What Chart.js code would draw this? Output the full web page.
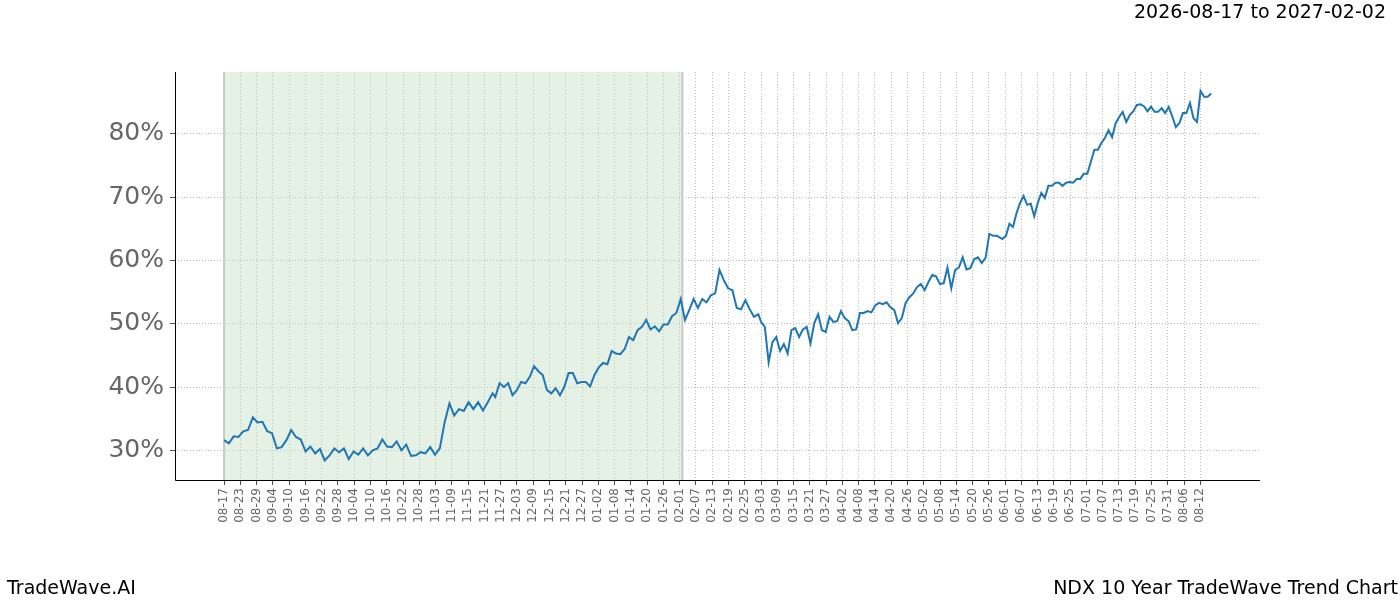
<!DOCTYPE html>
<html>
<head>
<meta charset="utf-8">
<script src="https://cdn.jsdelivr.net/npm/chart.js@4.4.0/dist/chart.umd.min.js"></script>
<style>
  body { margin: 0; background: #fff; font-family: "DejaVu Sans", sans-serif; }
  #wrap { position: relative; width: 1400px; height: 600px; }
  .txt { position: absolute; font-size: 19px; color: #000; white-space: nowrap; }
</style>
</head>
<body>
<div id="wrap">
  <canvas id="chart" width="1400" height="600"></canvas>
  <div class="txt" style="right:14px; top:0px;">2026-08-17 to 2027-02-02</div>
  <div class="txt" style="left:7px; top:576px;">TradeWave.AI</div>
  <div class="txt" style="right:2px; top:576px;">NDX 10 Year TradeWave Trend Chart</div>
</div>
<script>
const tickLabels = ['08-17','08-23','08-29','09-04','09-10','09-16','09-22','09-28','10-04','10-10','10-16','10-22','10-28','11-03','11-09','11-15','11-21','11-27','12-03','12-09','12-15','12-21','12-27','01-02','01-08','01-14','01-20','01-26','02-01','02-07','02-13','02-19','02-25','03-03','03-09','03-15','03-21','03-27','04-02','04-08','04-14','04-20','04-26','05-02','05-08','05-14','05-20','05-26','06-01','06-07','06-13','06-19','06-25','07-01','07-07','07-13','07-19','07-25','07-31','08-06','08-12'];
const tickStepDays = 6;

// series read in four stretches, each spread evenly between its first and last day
const segStartDay = [0, 100, 198, 287];
const segEndDay = [99, 197, 285, 364];
const seg1 = [31.6,31.1,32.2,32.1,33.0,33.2,35.2,34.4,34.5,33.0,32.7,30.3,30.5,31.6,33.2,32.1,31.7,29.8,30.6,29.5,30.2,28.4,29.2,30.3,29.7,30.3,28.6,29.8,29.3,30.3,29.2,30.0,30.3,31.7,30.6,30.5,31.4,30.0,30.9,29.1,29.2,29.7,29.5,30.5,29.3,30.3,34.4,37.4,35.5,36.5,36.2,37.6,36.5,37.6,36.3,37.6,39.0];
const seg2 = [38.4,40.6,40.0,40.6,38.7,39.5,40.8,40.6,41.6,43.3,42.5,41.9,39.5,39.0,39.8,38.7,40.0,42.2,42.2,40.6,40.8,40.8,40.1,41.9,43.1,43.8,43.6,45.7,45.3,45.2,46.0,47.9,47.4,49.0,49.5,50.6,49.1,49.6,48.8,49.9,49.9,51.2,51.7,53.9,50.6,52.2,53.9,52.5,53.9,53.4,54.5,54.8,58.5,56.9,55.6,55.3,52.5,52.3,53.7,52.3,51.1,51.5];
const seg3 = [50.3,49.5,43.9,47.1,47.9,45.7,46.8,45.3,49.0,49.3,47.9,49.1,49.5,46.9,50.1,51.5,49.0,48.7,51.1,50.3,50.4,52.0,50.9,50.4,49.0,49.1,51.7,51.7,52.0,51.8,52.9,53.3,53.1,53.4,52.6,52.2,50.1,50.9,53.3,54.2,54.8,55.8,56.3,55.3,56.6,57.7,57.5,56.3,56.4,58.9,55.6,58.5,58.9,60.5,58.6,58.8,60.2,60.5,59.6,60.4,64.2,63.9,63.9];
const seg4 = [63.4,63.9,65.8,65.3,67.5,69.1,70.2,68.8,69.0,67.0,69.1,70.7,69.9,71.8,71.8,72.3,72.3,71.8,72.3,72.4,72.3,72.9,72.9,73.7,73.7,75.6,77.5,77.5,78.6,79.4,80.6,79.5,81.7,82.7,83.5,81.9,83.0,83.6,84.6,84.7,84.4,83.6,84.3,83.5,83.5,84.1,83.3,84.3,82.8,81.1,81.7,83.3,83.3,84.9,82.5,81.9,86.8,85.9,85.9,86.4];
const shadeStartDay = 0;
const shadeEndDay = 169;
const yTicks = [30, 40, 50, 60, 70, 80];

const points = [];
[seg1, seg2, seg3, seg4].forEach((seg, s) => {
    const span = segEndDay[s] - segStartDay[s];
    seg.forEach((v, i) => {
        points.push({ x: segStartDay[s] + span * i / (seg.length - 1), y: v });
    });
});

const shadePlugin = {
    id: 'shade',
    beforeDatasetsDraw(chart) {
        const { ctx, chartArea, scales } = chart;
        const x0 = scales.x.getPixelForValue(shadeStartDay);
        const x1 = scales.x.getPixelForValue(shadeEndDay);
        ctx.save();
        ctx.fillStyle = 'rgba(200,225,200,0.45)';
        ctx.fillRect(x0, chartArea.top, x1 - x0, chartArea.bottom - chartArea.top);
        ctx.strokeStyle = '#c8c8c8';
        ctx.lineWidth = 2;
        [x0, x1].forEach(x => {
            ctx.beginPath();
            ctx.moveTo(x, chartArea.top);
            ctx.lineTo(x, chartArea.bottom);
            ctx.stroke();
        });
        ctx.restore();
    }
};

// solid black spines on the left and bottom only
const spinePlugin = {
    id: 'spines',
    afterDraw(chart) {
        const { ctx, chartArea } = chart;
        ctx.save();
        ctx.strokeStyle = '#000';
        ctx.lineWidth = 1;
        ctx.beginPath();
        ctx.moveTo(chartArea.left + 0.5, chartArea.top);
        ctx.lineTo(chartArea.left + 0.5, chartArea.bottom + 0.5);
        ctx.lineTo(chartArea.right, chartArea.bottom + 0.5);
        ctx.stroke();
        ctx.restore();
    }
};

new Chart(document.getElementById('chart'), {
    type: 'line',
    data: {
        datasets: [{
            data: points,
            borderColor: '#1f77b4',
            borderWidth: 2,
            pointRadius: 0,
            tension: 0
        }]
    },
    options: {
        responsive: false,
        animation: false,
        layout: { padding: { left: 0, right: 140, top: 72, bottom: 0 } },
        plugins: { legend: { display: false }, tooltip: { enabled: false } },
        scales: {
            x: {
                type: 'linear',
                min: -18.1,
                max: 382,
                afterBuildTicks(axis) {
                    axis.ticks = tickLabels.map((_, i) => ({ value: i * tickStepDays }));
                },
                afterFit(axis) { axis.height = 120; },
                ticks: {
                    autoSkip: false,
                    maxRotation: 90,
                    minRotation: 90,
                    color: '#666',
                    font: { family: 'DejaVu Sans', size: 12 },
                    callback: (v) => tickLabels[Math.round(v / tickStepDays)]
                },
                grid: {
                    color: '#999',
                    lineWidth: 0.7,
                    tickLength: 5,
                    tickColor: '#000'
                },
                border: { display: false, dash: [1, 2] }
            },
            y: {
                min: 25.3,
                max: 89.8,
                afterBuildTicks(axis) {
                    axis.ticks = yTicks.map(v => ({ value: v }));
                },
                afterFit(axis) { axis.width = 175; },
                ticks: {
                    color: '#666',
                    font: { family: 'DejaVu Sans', size: 25 },
                    padding: 6,
                    callback: (v) => v + '%'
                },
                grid: {
                    color: '#999',
                    lineWidth: 0.7,
                    tickLength: 5,
                    tickColor: '#000'
                },
                border: { display: false, dash: [1, 2] }
            }
        }
    },
    plugins: [shadePlugin, spinePlugin]
});
</script>
</body>
</html>
